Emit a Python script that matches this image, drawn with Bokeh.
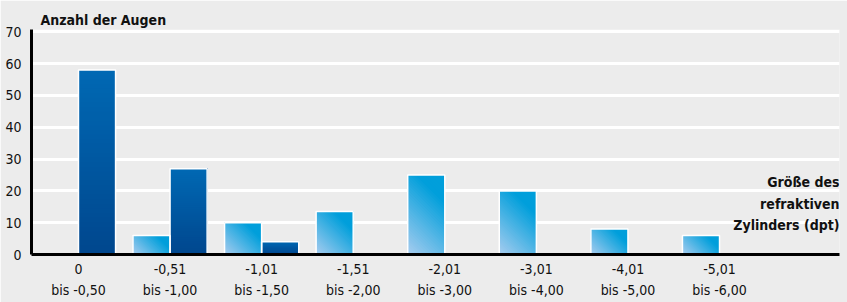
from bokeh.plotting import figure
from bokeh.models import Range1d, FixedTicker, Label, LinearAxis
from bokeh.embed import file_html
from bokeh.resources import INLINE

# ---- data ----
range_from = ["0", "-0,51", "-1,01", "-1,51", "-2,01", "-3,01", "-4,01", "-5,01"]
range_to = ["bis -0,50", "bis -1,00", "bis -1,50", "bis -2,00",
            "bis -3,00", "bis -4,00", "bis -5,00", "bis -6,00"]
series_light = [0, 6, 10, 13.5, 25, 20, 8, 6]
series_dark = [58, 27, 4, 0, 0, 0, 0, 0]
y_ticks = [0, 10, 20, 30, 40, 50, 60, 70]
y_title = "Anzahl der Augen"
x_title = ["Größe des", "refraktiven", "Zylinders (dpt)"]

FONT = "'DejaVu Sans Condensed', Roboto, sans-serif"
FS = "14px"
BG = "#ececec"
TXT = "#111111"
W, H = 847, 302

p = figure(width=W, height=H, output_backend="svg", toolbar_location=None,
           x_range=Range1d(-0.513, 8.31), y_range=Range1d(0, 70.75),
           min_border_left=31, min_border_right=8, min_border_top=29,
           min_border_bottom=48, title=y_title)
p.background_fill_color = BG
p.border_fill_color = BG
p.outline_line_color = None

p.title.align = "left"
p.title.offset = 9
p.title.standoff = 4
p.title.text_font = FONT
p.title.text_font_size = FS
p.title.text_font_style = "bold"
p.title.text_color = TXT

# pixels per data unit (for gradient geometry)
SX = 808 / (8.31 + 0.513)
SY = 225 / 70.75
BW = 0.405


def hex2rgb(h):
    h = h.lstrip("#")
    return tuple(int(h[i:i + 2], 16) for i in (0, 2, 4))


def lerp(c1, c2, t):
    a, b = hex2rgb(c1), hex2rgb(c2)
    return "#%02x%02x%02x" % tuple(int(round(a[i] + (b[i] - a[i]) * t)) for i in range(3))


def clip(poly, a, b, c):
    out = []
    n = len(poly)
    for i in range(n):
        p1, p2 = poly[i], poly[(i + 1) % n]
        f1 = a * p1[0] + b * p1[1] - c
        f2 = a * p2[0] + b * p2[1] - c
        if f1 >= 0:
            out.append(p1)
        if (f1 >= 0) != (f2 >= 0):
            t = f1 / (f1 - f2)
            out.append((p1[0] + t * (p2[0] - p1[0]), p1[1] + t * (p2[1] - p1[1])))
    return out


xs, ys, cols = [], [], []
N = 40
# light series: diagonal gradient (bottom-left light -> top-right saturated)
for i, v in enumerate(series_light):
    if v <= 0:
        continue
    x0, x1 = i - BW, i
    rect = [(x0, 0), (x1, 0), (x1, v), (x0, v)]
    mx = SX * BW + SY * v
    for k in range(N):
        c = mx * k / N
        poly = clip(rect, SX, SY, c + SX * x0)
        if len(poly) < 3:
            continue
        t = min(1.0, (k / N) / 0.75)
        xs.append([q[0] for q in poly])
        ys.append([q[1] for q in poly])
        cols.append(lerp("#a6ccef", "#009fdb", t))
# dark series: vertical gradient
for i, v in enumerate(series_dark):
    if v <= 0:
        continue
    x0, x1 = i, i + BW
    for k in range(N):
        y0 = v * k / N
        xs.append([x0, x1, x1, x0])
        ys.append([y0, y0, v, v])
        cols.append(lerp("#00478e", "#0068b3", k / (N - 1)))

p.patches(xs=xs, ys=ys, fill_color=cols, line_color=None)

# white outlines
lx = [i - BW for i, v in enumerate(series_light) if v > 0]
lr = [i for i, v in enumerate(series_light) if v > 0]
lt = [v for v in series_light if v > 0]
p.quad(left=lx, right=lr, top=lt, bottom=0, fill_color=None, line_color="white", line_width=1.5)
dx = [i for i, v in enumerate(series_dark) if v > 0]
dr = [i + BW for i, v in enumerate(series_dark) if v > 0]
dt = [v for v in series_dark if v > 0]
p.quad(left=dx, right=dr, top=dt, bottom=0, fill_color=None, line_color="white", line_width=1.5)

# y axis / grid
p.xgrid.visible = False
p.ygrid.grid_line_color = "white"
p.ygrid.grid_line_width = 3
p.yaxis.ticker = FixedTicker(ticks=y_ticks)
p.ygrid.ticker = FixedTicker(ticks=y_ticks)
p.yaxis.axis_line_width = 3
p.yaxis.axis_line_color = "black"
p.yaxis.major_tick_line_color = None
p.yaxis.minor_tick_line_color = None
p.yaxis.major_tick_out = 0
p.yaxis.major_tick_in = 0
p.yaxis.minor_tick_out = 0
p.yaxis.major_label_standoff = 10
p.yaxis.major_label_text_font = FONT
p.yaxis.major_label_text_font_size = FS
p.yaxis.major_label_text_color = TXT

# x axes: first line and second line of category labels
cat_ticks = list(range(len(range_from)))
xa = p.xaxis[0]
xa.ticker = FixedTicker(ticks=cat_ticks)
xa.major_label_overrides = {i: s for i, s in zip(cat_ticks, range_from)}
xa.axis_line_width = 3
xa.axis_line_color = "black"
xa.major_tick_line_color = None
xa.minor_tick_line_color = None
xa.major_tick_out = 0
xa.major_tick_in = 0
xa.minor_tick_out = 0
xa.major_label_standoff = 9
xa.major_label_text_font = FONT
xa.major_label_text_font_size = FS
xa.major_label_text_color = TXT

xb = LinearAxis(ticker=FixedTicker(ticks=cat_ticks),
                major_label_overrides={i: s for i, s in zip(cat_ticks, range_to)},
                axis_line_color=None, major_tick_line_color=None, minor_tick_line_color=None,
                major_tick_out=0, major_tick_in=0, minor_tick_out=0,
                major_label_standoff=5, major_label_text_font=FONT,
                major_label_text_font_size=FS, major_label_text_color=TXT)
p.add_layout(xb, "below")

for txt, yy in zip(x_title, [22.7, 16.0, 9.3]):
    p.add_layout(Label(x=8.31, y=yy, text=txt, text_align="right", text_baseline="middle",
                       text_font=FONT, text_font_style="bold", text_font_size=FS,
                       text_color=TXT))

open("out.html", "w").write(file_html(p, INLINE))
